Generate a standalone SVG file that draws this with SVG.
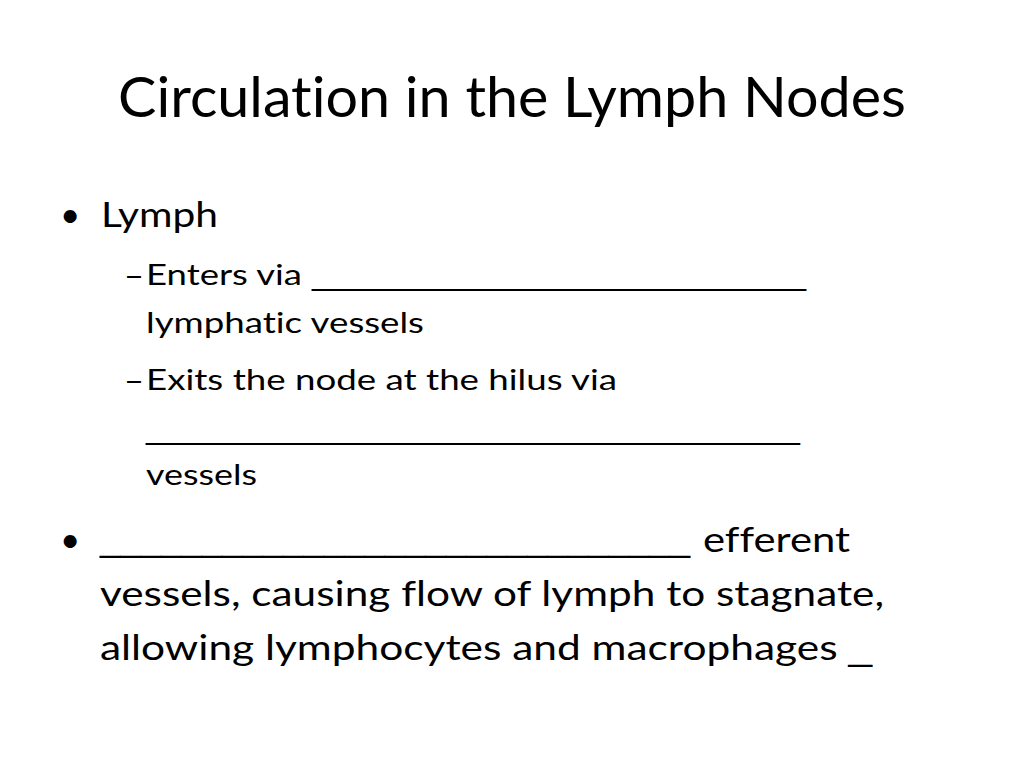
<svg xmlns="http://www.w3.org/2000/svg" width="1024" height="768" viewBox="0 0 1024 768">
<style>
text{font-family:Lato,"Open Sans","Liberation Sans",sans-serif;fill:#000;font-variant-ligatures:none;font-feature-settings:"liga" 0}
.t{font-size:57px}
.l1{font-size:35px}
.l2{font-size:29px}
.u{font-family:"Liberation Sans",sans-serif}
</style>
<rect width="1024" height="768" fill="#fff"/>
<g id="title"><text class="t" x="118" y="117" textLength="788" lengthAdjust="spacingAndGlyphs">Circulation in the Lymph Nodes</text></g>
<g id="bullet1">
<text class="l1" x="60" y="227">•</text>
<text class="l1" x="101" y="227" textLength="117" lengthAdjust="spacingAndGlyphs">Lymph</text>
</g>
<g id="sub1">
<text class="l2 u" x="127" y="285" textLength="14" lengthAdjust="spacingAndGlyphs">–</text>
<text class="l2" x="146" y="285" textLength="156" lengthAdjust="spacingAndGlyphs">Enters via</text>
<text class="l2 u" x="312" y="285" textLength="494" lengthAdjust="spacingAndGlyphs">___________________________</text>
<text class="l2" x="146" y="333" textLength="278" lengthAdjust="spacingAndGlyphs">lymphatic vessels</text>
</g>
<g id="sub2">
<text class="l2 u" x="127" y="390" textLength="14" lengthAdjust="spacingAndGlyphs">–</text>
<text class="l2" x="146" y="390" textLength="471" lengthAdjust="spacingAndGlyphs">Exits the node at the hilus via</text>
<text class="l2 u" x="146" y="439" textLength="654" lengthAdjust="spacingAndGlyphs">____________________________________</text>
<text class="l2" x="146" y="485" textLength="111" lengthAdjust="spacingAndGlyphs">vessels</text>
</g>
<g id="bullet2">
<text class="l1" x="60" y="552">•</text>
<text class="l1 u" x="100" y="551" textLength="590" lengthAdjust="spacingAndGlyphs">_____________________________</text>
<text class="l1" x="703" y="552" textLength="147" lengthAdjust="spacingAndGlyphs">efferent</text>
<text class="l1" x="100" y="606" textLength="784" lengthAdjust="spacingAndGlyphs">vessels, causing flow of lymph to stagnate,</text>
<text class="l1" x="100" y="660" textLength="772" lengthAdjust="spacingAndGlyphs">allowing lymphocytes and macrophages <tspan class="u">_</tspan></text>
</g>
</svg>
